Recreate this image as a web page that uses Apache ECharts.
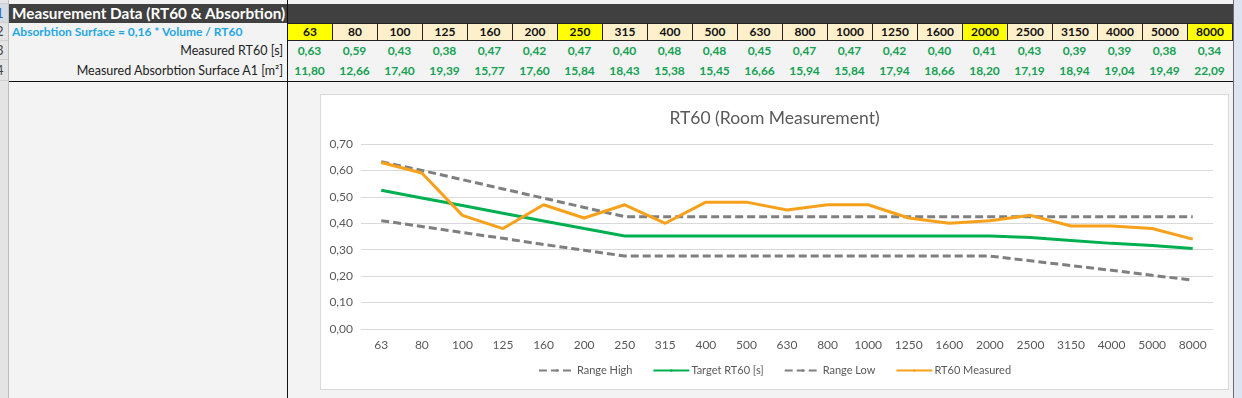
<!DOCTYPE html>
<html>
<head>
<meta charset="utf-8">
<script src="https://cdn.jsdelivr.net/npm/echarts@6/dist/echarts.min.js"></script>
<style>
  html,body{margin:0;padding:0;}
  body{width:1242px;height:398px;position:relative;overflow:hidden;background:#f3f3f3;font-family:Lato,"Open Sans",sans-serif;}
  .abs{position:absolute;box-sizing:border-box;}
  .rownum{left:0;width:8px;background:#e4e4e4;overflow:hidden;font-size:13px;color:#444;text-align:left;border-bottom:1px solid #cfcfcf;}
  .rownum span{position:absolute;left:-4px;}
  .cell{width:45px;height:18px;border:1px solid #222;text-align:center;font-weight:bold;font-size:12px;line-height:16px;color:#111;}
  .val{width:45px;text-align:center;font-weight:bold;font-size:12px;color:#14a152;}
  .lbl{right:959px;text-align:right;font-size:12.5px;color:#222;white-space:nowrap;}
</style>
</head>
<body>
<div id="sheet"></div>
<div class="abs" id="chartBox" style="left:320px;top:94px;width:909px;height:296px;background:#fff;border:1px solid #d9d9d9;">
  <div id="chart" style="width:907px;height:294px;"></div>
</div>
<script>
const freqs = ["63","80","100","125","160","200","250","315","400","500","630","800","1000","1250","1600","2000","2500","3150","4000","5000","8000"];
const highlighted = ["63","250","2000","8000"];
const measuredRT60 = [0.63,0.59,0.43,0.38,0.47,0.42,0.47,0.40,0.48,0.48,0.45,0.47,0.47,0.42,0.40,0.41,0.43,0.39,0.39,0.38,0.34];
const absorption = ["11,80","12,66","17,40","19,39","15,77","17,60","15,84","18,43","15,38","15,45","16,66","15,94","15,84","17,94","18,66","18,20","17,19","18,94","19,04","19,49","22,09"];
const rangeHigh = [0.633,0.600,0.565,0.530,0.495,0.460,0.425,0.425,0.425,0.425,0.425,0.425,0.425,0.425,0.425,0.425,0.425,0.425,0.425,0.425,0.425];
const targetRT60 = [0.525,0.496,0.467,0.438,0.409,0.380,0.352,0.352,0.352,0.352,0.352,0.352,0.352,0.352,0.352,0.352,0.346,0.335,0.324,0.316,0.305];
const rangeLow = [0.410,0.388,0.365,0.343,0.320,0.298,0.276,0.276,0.276,0.276,0.276,0.276,0.276,0.276,0.276,0.276,0.258,0.240,0.222,0.203,0.185];
const yTicks = [0,0.1,0.2,0.3,0.4,0.5,0.6,0.7];

// ---- spreadsheet part ----
const sheet = document.getElementById('sheet');
function add(html){ sheet.insertAdjacentHTML('beforeend', html); }
add('<div class="abs rownum" style="top:0;height:4px;"></div>');
add('<div class="abs rownum" style="top:4px;height:19px;background:#d5dbe5;"><span style="top:1px;color:#2a62b8;">1</span></div>');
add('<div class="abs rownum" style="top:23px;height:18px;"><span style="top:0px;">2</span></div>');
add('<div class="abs rownum" style="top:41px;height:19px;"><span style="top:1px;">3</span></div>');
add('<div class="abs rownum" style="top:60px;height:21px;"><span style="top:2px;">4</span></div>');
add('<div class="abs rownum" style="top:81px;height:317px;border-bottom:none;"></div>');
add('<div class="abs" style="left:8px;top:0;width:1px;height:398px;background:#bdbdbd;"></div>');
add('<div class="abs" style="left:9px;top:4px;width:1224px;height:19px;background:#404040;color:#fff;font-weight:bold;font-size:15.3px;line-height:19px;padding-left:3px;white-space:nowrap;">Measurement Data (RT60 &amp; Absorbtion)</div>');
add('<div class="abs" style="left:12px;top:23px;height:18px;line-height:18px;font-weight:bold;font-size:12px;color:#1fa7e1;white-space:nowrap;">Absorbtion Surface = 0,16 * Volume / RT60</div>');
add('<div class="abs lbl" style="top:42px;height:18px;line-height:18px;">Measured RT60 [s]</div>');
add('<div class="abs lbl" style="top:61px;height:19px;line-height:19px;">Measured Absorbtion Surface A1 [m²]</div>');
freqs.forEach((f,i)=>{
  const x = 287 + i*45;
  const bg = highlighted.includes(f) ? '#ffff00' : '#fff0cc';
  add('<div class="abs cell" style="left:'+x+'px;top:23px;width:46px;background:'+bg+';">'+f+'</div>');
  add('<div class="abs val" style="left:'+x+'px;top:42px;height:18px;line-height:18px;">'+measuredRT60[i].toFixed(2).replace('.',',')+'</div>');
  add('<div class="abs val" style="left:'+x+'px;top:61px;height:19px;line-height:19px;">'+absorption[i]+'</div>');
});
add('<div class="abs" style="left:9px;top:81px;width:1224px;height:1px;background:#111;"></div>');
add('<div class="abs" style="left:287px;top:0;width:1px;height:398px;background:#111;"></div>');
add('<div class="abs" style="left:1233px;top:0;width:1px;height:398px;background:#6b6b6b;"></div>');
add('<div class="abs" style="left:1234px;top:0;width:8px;height:398px;background:#dce3f1;"></div>');

// ---- chart ----
const chart = echarts.init(document.getElementById('chart'), null, {renderer:'canvas'});
const fmt = v => v.toFixed(2).replace('.',',');
const font = 'Lato, "Open Sans", sans-serif';
chart.setOption({
  animation:false,
  backgroundColor:'#fff',
  textStyle:{fontFamily:font},
  title:{text:'RT60 (Room Measurement)',left:'center',top:9,textStyle:{fontSize:17.5,fontWeight:'normal',color:'#595959',fontFamily:font}},
  grid:{left:40,right:15,top:49,bottom:60,containLabel:false},
  legend:{
    bottom:8,left:'center',itemWidth:36,itemHeight:3,itemGap:20,
    textStyle:{fontSize:11,color:'#595959',fontFamily:font,padding:[0,0,0,-3]},
    data:['Range High','Target RT60 [s]','Range Low','RT60 Measured']
  },
  xAxis:{
    type:'category',data:freqs,boundaryGap:true,
    axisLine:{show:true,lineStyle:{color:'#d9d9d9',width:1}},
    axisTick:{show:false},
    axisLabel:{color:'#595959',fontSize:12,margin:10,interval:0,fontFamily:font}
  },
  yAxis:{
    type:'value',min:0,max:0.7,interval:0.1,
    axisLine:{show:false},axisTick:{show:false},
    axisLabel:{formatter:fmt,color:'#595959',fontSize:12,margin:8,fontFamily:font},
    splitLine:{lineStyle:{color:'#d9d9d9',width:1}}
  },
  series:[
    {name:'Range High',type:'line',data:rangeHigh,symbol:'none',lineStyle:{color:'#7f7f7f',width:3,type:[8,4]},itemStyle:{color:'#7f7f7f'}},
    {name:'Target RT60 [s]',type:'line',data:targetRT60,symbol:'none',lineStyle:{color:'#00b050',width:3},itemStyle:{color:'#00b050'}},
    {name:'Range Low',type:'line',data:rangeLow,symbol:'none',lineStyle:{color:'#7f7f7f',width:3,type:[8,4]},itemStyle:{color:'#7f7f7f'}},
    {name:'RT60 Measured',type:'line',data:measuredRT60,symbol:'none',lineStyle:{color:'#f7a01b',width:3},itemStyle:{color:'#f7a01b'}}
  ]
});
</script>
</body>
</html>
